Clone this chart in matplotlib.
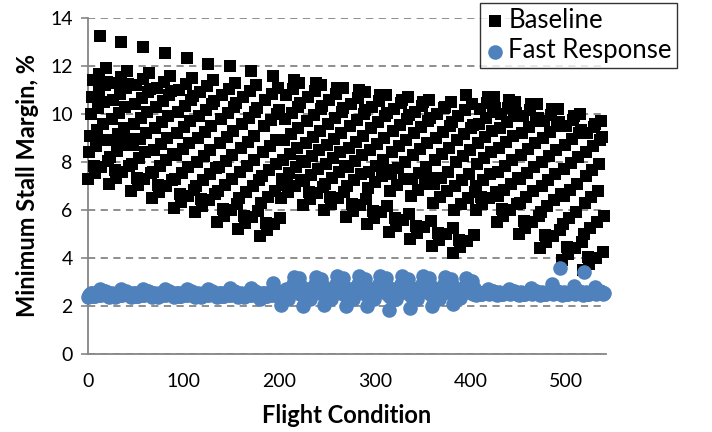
import numpy as np
import matplotlib
matplotlib.use("Agg")
import matplotlib.pyplot as plt

# ---- data (groups of flight conditions) ----
baseline_block_a = [
    7.3, 8.4, 9.1, 10.0, 10.7, 11.4, 7.85, 7.55, 8.65, 9.35, 10.25, 10.95, 11.65, 13.25, 7.8, 8.9, 9.6, 10.5, 11.2, 11.9, 11.35, 8.05,
    7.1, 8.2, 8.9, 9.8, 10.6, 11.3, 7.65, 7.35, 8.45, 9.15, 10.05, 10.85, 11.55, 13.0, 7.6, 8.7, 9.4, 10.3, 11.1, 11.8, 11.25, 7.85, 8.95,
    6.8, 7.9, 8.7, 9.6, 10.4, 11.2, 7.35, 7.05, 8.15, 8.95, 9.85, 10.65, 11.45, 12.8, 7.3, 8.4, 9.2, 10.1, 10.9, 11.7, 11.05, 7.55,
    6.5, 7.6, 8.5, 9.4, 10.3, 11.1, 7.05, 6.75, 7.85, 8.75, 9.65, 10.55, 11.35, 12.55, 7.0, 8.1, 9.0, 9.9, 10.8, 11.6, 10.95, 7.25, 8.35,
    6.1, 7.3, 8.3, 9.2, 10.1, 11.0, 6.65, 6.35, 7.55, 8.55, 9.45, 10.35, 11.25, 12.35, 6.6, 7.8, 8.8, 9.7, 10.6, 11.5, 10.75, 6.85,
    5.9, 7.0, 8.0, 9.0, 9.9, 10.9, 6.45, 6.15, 7.25, 8.25, 9.25, 10.15, 11.15, 12.1, 6.4, 7.5, 8.5, 9.5, 10.4, 11.4, 10.55, 6.65, 7.75,
    5.5, 6.8, 7.8, 8.8, 9.8, 10.8, 6.05, 5.75, 7.05, 8.05, 9.05, 10.05, 11.05, 12.0, 6.0, 7.3, 8.3, 9.3, 10.3, 11.3, 10.45, 6.25,
    5.2, 6.5, 7.6, 8.6, 9.6, 10.7, 5.75, 5.45, 6.75, 7.85, 8.85, 9.85, 10.95, 11.8, 5.7, 7.0, 8.1, 9.1, 10.1, 11.2, 10.25, 5.95, 7.25,
    4.9, 6.3, 7.4, 8.4, 9.5, 10.6, 5.45, 5.15, 6.55, 7.65, 8.65, 9.75, 10.85, 11.6, 5.4, 6.8, 7.9, 8.9, 10.0, 11.1, 10.15, 5.65,
]
baseline_block_b = [
    6.5, 7.3, 8.1, 8.9, 9.8, 10.8, 7.05, 6.75, 7.55, 8.35, 9.15, 10.05, 11.05, 11.4, 7.0, 7.8, 8.6, 9.4, 10.3, 11.3, 10.45, 7.25, 8.05,
    6.2, 7.2, 8.0, 8.8, 9.7, 10.7, 6.75, 6.45, 7.45, 8.25, 9.05, 9.95, 10.95, 11.3, 6.7, 7.7, 8.5, 9.3, 10.2, 11.2, 10.35, 6.95,
    6.0, 7.1, 7.9, 8.7, 9.6, 10.6, 6.55, 6.25, 7.35, 8.15, 8.95, 9.85, 10.85, 11.1, 6.5, 7.6, 8.4, 9.2, 10.1, 11.1, 10.25, 6.75, 7.85,
    5.7, 7.0, 7.8, 8.6, 9.5, 10.4, 6.25, 5.95, 7.25, 8.05, 8.85, 9.75, 10.65, 11.0, 6.2, 7.5, 8.3, 9.1, 10.0, 10.9, 10.15, 6.45,
    5.4, 6.9, 7.6, 8.5, 9.4, 10.3, 5.95, 5.65, 7.15, 7.85, 8.75, 9.65, 10.55, 10.8, 5.9, 7.4, 8.1, 9.0, 9.9, 10.8, 10.05, 6.15, 7.65,
    5.1, 6.8, 7.5, 8.4, 9.3, 10.2, 5.65, 5.35, 7.05, 7.75, 8.65, 9.55, 10.45, 10.6, 5.6, 7.3, 8.0, 8.9, 9.8, 10.7, 9.95, 5.85,
    4.8, 6.6, 7.3, 8.3, 9.2, 10.1, 5.35, 5.05, 6.85, 7.55, 8.55, 9.45, 10.35, 10.5, 5.3, 7.1, 7.8, 8.8, 9.7, 10.6, 9.85, 5.55, 7.35,
    4.5, 6.3, 7.1, 8.1, 9.0, 10.0, 5.05, 4.75, 6.55, 7.35, 8.35, 9.25, 10.25, 10.3, 5.0, 6.8, 7.6, 8.6, 9.5, 10.5, 9.65, 5.25,
    4.2, 6.0, 7.0, 8.0, 8.9, 9.9, 4.75, 4.45, 6.25, 7.25, 8.25, 9.15, 10.15, 10.8, 4.7, 6.5, 7.5, 8.5, 9.4, 10.4, 9.55, 4.95, 6.75,
]
baseline_block_c = [
    6.0, 7.0, 7.9, 8.8, 9.6, 10.2, 6.55, 6.25, 7.25, 8.15, 9.05, 9.85, 10.45, 10.7, 6.5, 7.5, 8.4, 9.3, 10.1, 10.7, 10.25, 6.75,
    5.5, 6.6, 7.6, 8.6, 9.4, 10.0, 6.05, 5.75, 6.85, 7.85, 8.85, 9.65, 10.25, 10.6, 6.0, 7.1, 8.1, 9.1, 9.9, 10.5, 10.05, 6.25, 7.35,
    5.0, 6.3, 7.3, 8.3, 9.2, 9.9, 5.55, 5.25, 6.55, 7.55, 8.55, 9.45, 10.15, 10.4, 5.5, 6.8, 7.8, 8.8, 9.7, 10.4, 9.85, 5.75,
    4.4, 5.9, 7.0, 8.0, 9.0, 9.7, 4.95, 4.65, 6.15, 7.25, 8.25, 9.25, 9.95, 10.2, 4.9, 6.4, 7.5, 8.5, 9.5, 10.2, 9.65, 5.15, 6.65,
    3.9, 5.4, 6.6, 7.7, 8.7, 9.5, 4.45, 4.15, 5.65, 6.85, 7.95, 8.95, 9.75, 9.9, 4.4, 5.9, 7.1, 8.2, 9.2, 10.0, 9.35, 4.65,
    3.5, 5.0, 6.3, 7.4, 8.4, 9.2, 4.05, 3.75, 5.25, 6.55, 7.65, 8.65, 9.45, 9.6, 4.0, 5.5, 6.8, 7.9, 8.9, 9.7, 9.05, 4.25, 5.75,
]

fast_block_a = [
    2.38, 2.45, 2.5, 2.55, 2.53, 2.43, 2.4, 2.42, 2.48, 2.53, 2.58, 2.57, 2.47, 2.72, 2.45, 2.51, 2.55, 2.61, 2.63, 2.5, 2.57, 2.47,
    2.36, 2.44, 2.49, 2.54, 2.52, 2.42, 2.39, 2.41, 2.47, 2.52, 2.57, 2.56, 2.46, 2.7, 2.44, 2.5, 2.54, 2.6, 2.62, 2.49, 2.56, 2.46, 2.53,
    2.38, 2.45, 2.5, 2.55, 2.53, 2.43, 2.4, 2.42, 2.48, 2.53, 2.58, 2.57, 2.47, 2.71, 2.45, 2.51, 2.55, 2.61, 2.63, 2.5, 2.57, 2.47,
    2.37, 2.44, 2.49, 2.54, 2.52, 2.42, 2.39, 2.41, 2.47, 2.52, 2.57, 2.56, 2.46, 2.72, 2.44, 2.5, 2.54, 2.6, 2.62, 2.49, 2.56, 2.46, 2.53,
    2.38, 2.45, 2.5, 2.55, 2.53, 2.43, 2.4, 2.42, 2.48, 2.53, 2.58, 2.57, 2.47, 2.71, 2.45, 2.51, 2.55, 2.61, 2.63, 2.5, 2.57, 2.47,
    2.37, 2.44, 2.49, 2.54, 2.52, 2.42, 2.39, 2.41, 2.47, 2.52, 2.57, 2.56, 2.46, 2.72, 2.44, 2.5, 2.54, 2.6, 2.62, 2.49, 2.56, 2.46, 2.53,
    2.38, 2.45, 2.5, 2.55, 2.53, 2.43, 2.4, 2.42, 2.48, 2.53, 2.58, 2.57, 2.47, 2.73, 2.45, 2.51, 2.55, 2.61, 2.63, 2.5, 2.57, 2.47,
    2.37, 2.44, 2.49, 2.54, 2.52, 2.42, 2.39, 2.41, 2.47, 2.52, 2.57, 2.56, 2.46, 2.74, 2.44, 2.5, 2.54, 2.6, 2.62, 2.49, 2.56, 2.46, 2.53,
    2.3, 2.45, 2.5, 2.55, 2.53, 2.43, 2.4, 2.42, 2.48, 2.53, 2.58, 2.57, 2.47, 2.95, 2.45, 2.51, 2.55, 2.61, 2.63, 2.5, 2.57, 2.47,
]
fast_block_b = [
    2.05, 2.4, 2.48, 2.56, 2.6, 2.7, 2.38, 2.3, 2.52, 2.6, 2.68, 2.78, 2.93, 3.2, 2.62, 2.66, 2.73, 2.83, 2.98, 3.15, 2.52, 2.85, 2.68,
    2.0, 2.38, 2.47, 2.55, 2.6, 2.7, 2.36, 2.28, 2.5, 2.58, 2.66, 2.76, 2.92, 3.22, 2.6, 2.65, 2.72, 2.82, 2.97, 3.14, 2.5, 2.84,
    2.05, 2.4, 2.48, 2.56, 2.6, 2.7, 2.38, 2.3, 2.52, 2.6, 2.68, 2.78, 2.93, 3.25, 2.62, 2.66, 2.73, 2.83, 2.98, 3.15, 2.52, 2.85, 2.68,
    1.98, 2.38, 2.47, 2.55, 2.6, 2.7, 2.36, 2.28, 2.5, 2.58, 2.66, 2.76, 2.92, 3.24, 2.6, 2.65, 2.72, 2.82, 2.97, 3.14, 2.5, 2.84,
    2.02, 2.4, 2.48, 2.56, 2.6, 2.7, 2.38, 2.3, 2.52, 2.6, 2.68, 2.78, 2.93, 3.25, 2.62, 2.66, 2.73, 2.83, 2.98, 3.15, 2.52, 2.85, 2.68,
    1.85, 2.38, 2.47, 2.55, 2.6, 2.7, 2.36, 2.28, 2.5, 2.58, 2.66, 2.76, 2.92, 3.26, 2.6, 2.65, 2.72, 2.82, 2.97, 3.14, 2.5, 2.84,
    1.92, 2.4, 2.48, 2.56, 2.6, 2.7, 2.38, 2.3, 2.52, 2.6, 2.68, 2.78, 2.93, 3.25, 2.62, 2.66, 2.73, 2.83, 2.98, 3.15, 2.52, 2.85, 2.68,
    2.0, 2.38, 2.47, 2.55, 2.6, 2.7, 2.36, 2.28, 2.5, 2.58, 2.66, 2.76, 2.92, 3.22, 2.6, 2.65, 2.72, 2.82, 2.97, 3.14, 2.5, 2.84,
    2.1, 2.4, 2.48, 2.56, 2.6, 2.68, 2.4, 2.35, 2.52, 2.6, 2.66, 2.72, 2.85, 3.15, 2.6, 2.64, 2.7, 2.78, 2.9, 3.05, 2.52, 2.75, 2.62,
]
fast_block_c = [
    2.46, 2.5, 2.54, 2.58, 2.56, 2.48, 2.48, 2.48, 2.53, 2.56, 2.6, 2.58, 2.53, 2.7, 2.5, 2.54, 2.58, 2.62, 2.64, 2.54, 2.58, 2.51,
    2.46, 2.5, 2.54, 2.58, 2.56, 2.48, 2.48, 2.48, 2.53, 2.56, 2.6, 2.58, 2.53, 2.72, 2.5, 2.54, 2.58, 2.62, 2.64, 2.54, 2.58, 2.51, 2.55,
    2.46, 2.5, 2.54, 2.58, 2.56, 2.48, 2.48, 2.48, 2.53, 2.56, 2.6, 2.58, 2.53, 2.75, 2.5, 2.54, 2.58, 2.62, 2.64, 2.54, 2.58, 2.51,
    2.46, 2.5, 2.54, 2.58, 2.56, 2.48, 2.48, 2.48, 2.53, 2.56, 2.6, 2.58, 2.53, 2.9, 2.5, 2.54, 2.58, 2.62, 2.64, 2.54, 2.58, 3.6, 2.55,
    2.46, 2.5, 2.54, 2.58, 2.56, 2.48, 2.48, 2.48, 2.53, 2.56, 2.6, 2.58, 2.53, 2.85, 2.5, 2.54, 2.58, 2.62, 2.64, 2.54, 2.58, 2.51,
    2.46, 3.4, 2.54, 2.58, 2.56, 2.48, 2.48, 2.48, 2.53, 2.56, 2.6, 2.58, 2.53, 2.8, 2.5, 2.54, 2.58, 2.62, 2.64, 2.54, 2.58, 2.51, 2.55,
]

baseline = baseline_block_a + baseline_block_b + baseline_block_c
fast = fast_block_a + fast_block_b + fast_block_c
flight_condition = np.arange(len(baseline))
fast_condition = np.arange(len(fast))

x_ticks = [0, 100, 200, 300, 400, 500]
y_ticks = [0, 2, 4, 6, 8, 10, 12, 14]

# ---- style ----
plt.rcParams['font.family'] = ['Lato', 'DejaVu Sans']
gray = '#868686'
blue = '#4F81BD'

fig = plt.figure(figsize=(7.12, 4.32), dpi=100)
ax = fig.add_axes([0.1236, 0.1806, 0.727, 0.7777])

ax.scatter(flight_condition, baseline, marker='s', s=85, color='black',
           linewidths=0, label='Baseline', clip_on=False, zorder=3)
ax.scatter(fast_condition, fast, marker='o', s=110, color=blue,
           linewidths=0, label='Fast Response', clip_on=False, zorder=4)

ax.set_xlim(0, 541)
ax.set_ylim(0, 14)
ax.set_xticks(x_ticks)
ax.set_yticks(y_ticks)
ax.tick_params(axis='both', labelsize=14, colors=gray, labelcolor='black',
               length=5, width=1.2, direction='out')
ax.tick_params(axis='x', length=0, pad=14)
ax.tick_params(axis='y', pad=6)
for s in ['top', 'right']:
    ax.spines[s].set_visible(False)
for s in ['left', 'bottom']:
    ax.spines[s].set_color(gray)
    ax.spines[s].set_linewidth(1.3)
ax.yaxis.grid(True, linestyle=(0, (4, 3)), color=gray, linewidth=1.3, zorder=0)
ax.set_axisbelow(True)

ax.set_xlabel('Flight Condition', fontsize=17, fontweight='bold', labelpad=10)
ax.set_ylabel('Minimum Stall Margin, %', fontsize=17, fontweight='bold', labelpad=8)

leg = fig.legend(loc='upper left', bbox_to_anchor=(480 / 712, 1 - 3 / 432), fontsize=18.5,
                 frameon=True, fancybox=False, edgecolor='black',
                 handletextpad=0.1, borderpad=0.2, labelspacing=0.2,
                 markerscale=1.0, handlelength=0.8, borderaxespad=0.0)
leg.get_frame().set_linewidth(1.0)

fig.savefig('out.png', dpi=100)
